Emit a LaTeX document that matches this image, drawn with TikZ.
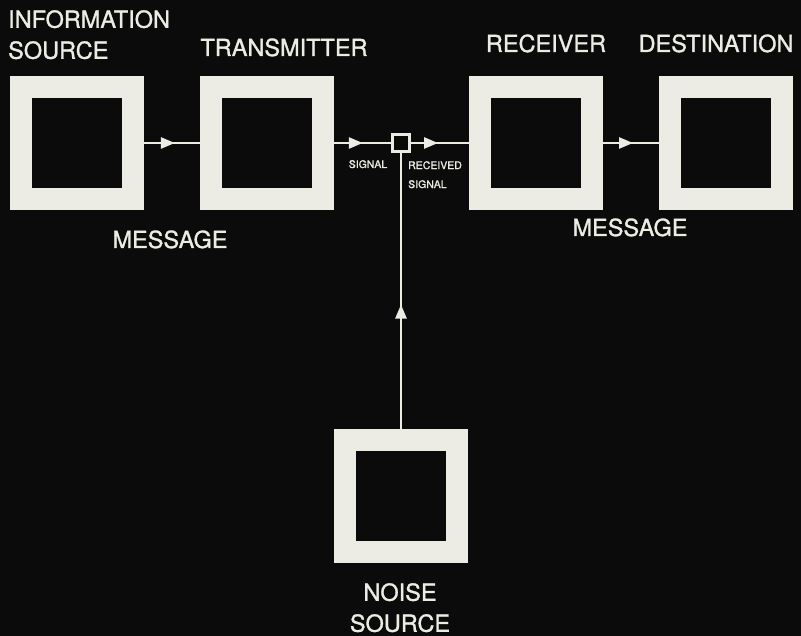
\documentclass[tikz,border=0pt]{standalone}
\usepackage{fontspec}
\setmainfont{TeX Gyre Heros}
\newfontfamily\labelfont[FakeBold=1.2]{TeX Gyre Heros}
\usetikzlibrary{arrows.meta,positioning,decorations.markings}
\definecolor{ink}{HTML}{0B0B0B}
\definecolor{chalk}{HTML}{ECECE4}
\tikzset{
  blockbox/.style={rectangle, draw=chalk, fill=ink, line width=22pt,
    minimum size=112pt, inner sep=0pt},
  joinbox/.style={rectangle, draw=chalk, fill=ink, line width=3pt,
    minimum size=17pt, inner sep=0pt},
  flowarrow/.style={draw=chalk, line width=2.5pt, postaction={decorate},
    decoration={markings, mark=at position #1 with
      {\arrow[chalk]{Triangle[length=14pt,width=11pt]}}}},
  flowarrow/.default=0.55,
  biglabel/.style={font=\labelfont\fontsize{23.5}{31}\selectfont, text=chalk,
    inner sep=0pt, align=center},
  smalllabel/.style={font=\labelfont\fontsize{10.5}{19}\selectfont, text=chalk,
    inner sep=0pt, align=left},
}
\begin{document}
\begin{tikzpicture}[x=1pt, y=-1pt]
  \fill[ink] (0,0) rectangle (801,636);
  % blocks
  \node[blockbox] (src) at (76.5,143) {};
  \node[blockbox] (tx) at (266.5,143) {};
  \node[joinbox] (mix) at (401,143) {};
  \node[blockbox] (rx) at (535.5,143) {};
  \node[blockbox] (dst) at (725.5,143) {};
  \node[blockbox] (noise) at (401,495.5) {};
  % connectors
  \draw[flowarrow=0.56] (src) -- (tx);
  \draw[flowarrow=0.51] (tx) -- (mix);
  \draw[flowarrow=0.47] (mix) -- (rx);
  \draw[flowarrow=0.545] (rx) -- (dst);
  \draw[flowarrow=0.45] (noise) -- (mix);
  % labels
  \node[biglabel, anchor=north west, align=left] (srclabel) at (8,10) {INFORMATION\\SOURCE};
  \node[biglabel, anchor=base] (txlabel) at (284,56) {TRANSMITTER};
  \node[biglabel, anchor=base] (rxlabel) at (546,52) {RECEIVER};
  \node[biglabel, anchor=base] (dstlabel) at (716,52) {DESTINATION};
  \node[biglabel, anchor=base] (msgin) at (170,248) {MESSAGE};
  \node[biglabel, anchor=base] (msgout) at (630,236) {MESSAGE};
  \node[smalllabel, anchor=base] (sig) at (368,168) {SIGNAL};
  \node[smalllabel, anchor=north west] (rsig) at (408,161) {RECEIVED\\SIGNAL};
  \node[biglabel, anchor=north] (noiselabel) at (400,583) {NOISE\\SOURCE};
\end{tikzpicture}
\end{document}
